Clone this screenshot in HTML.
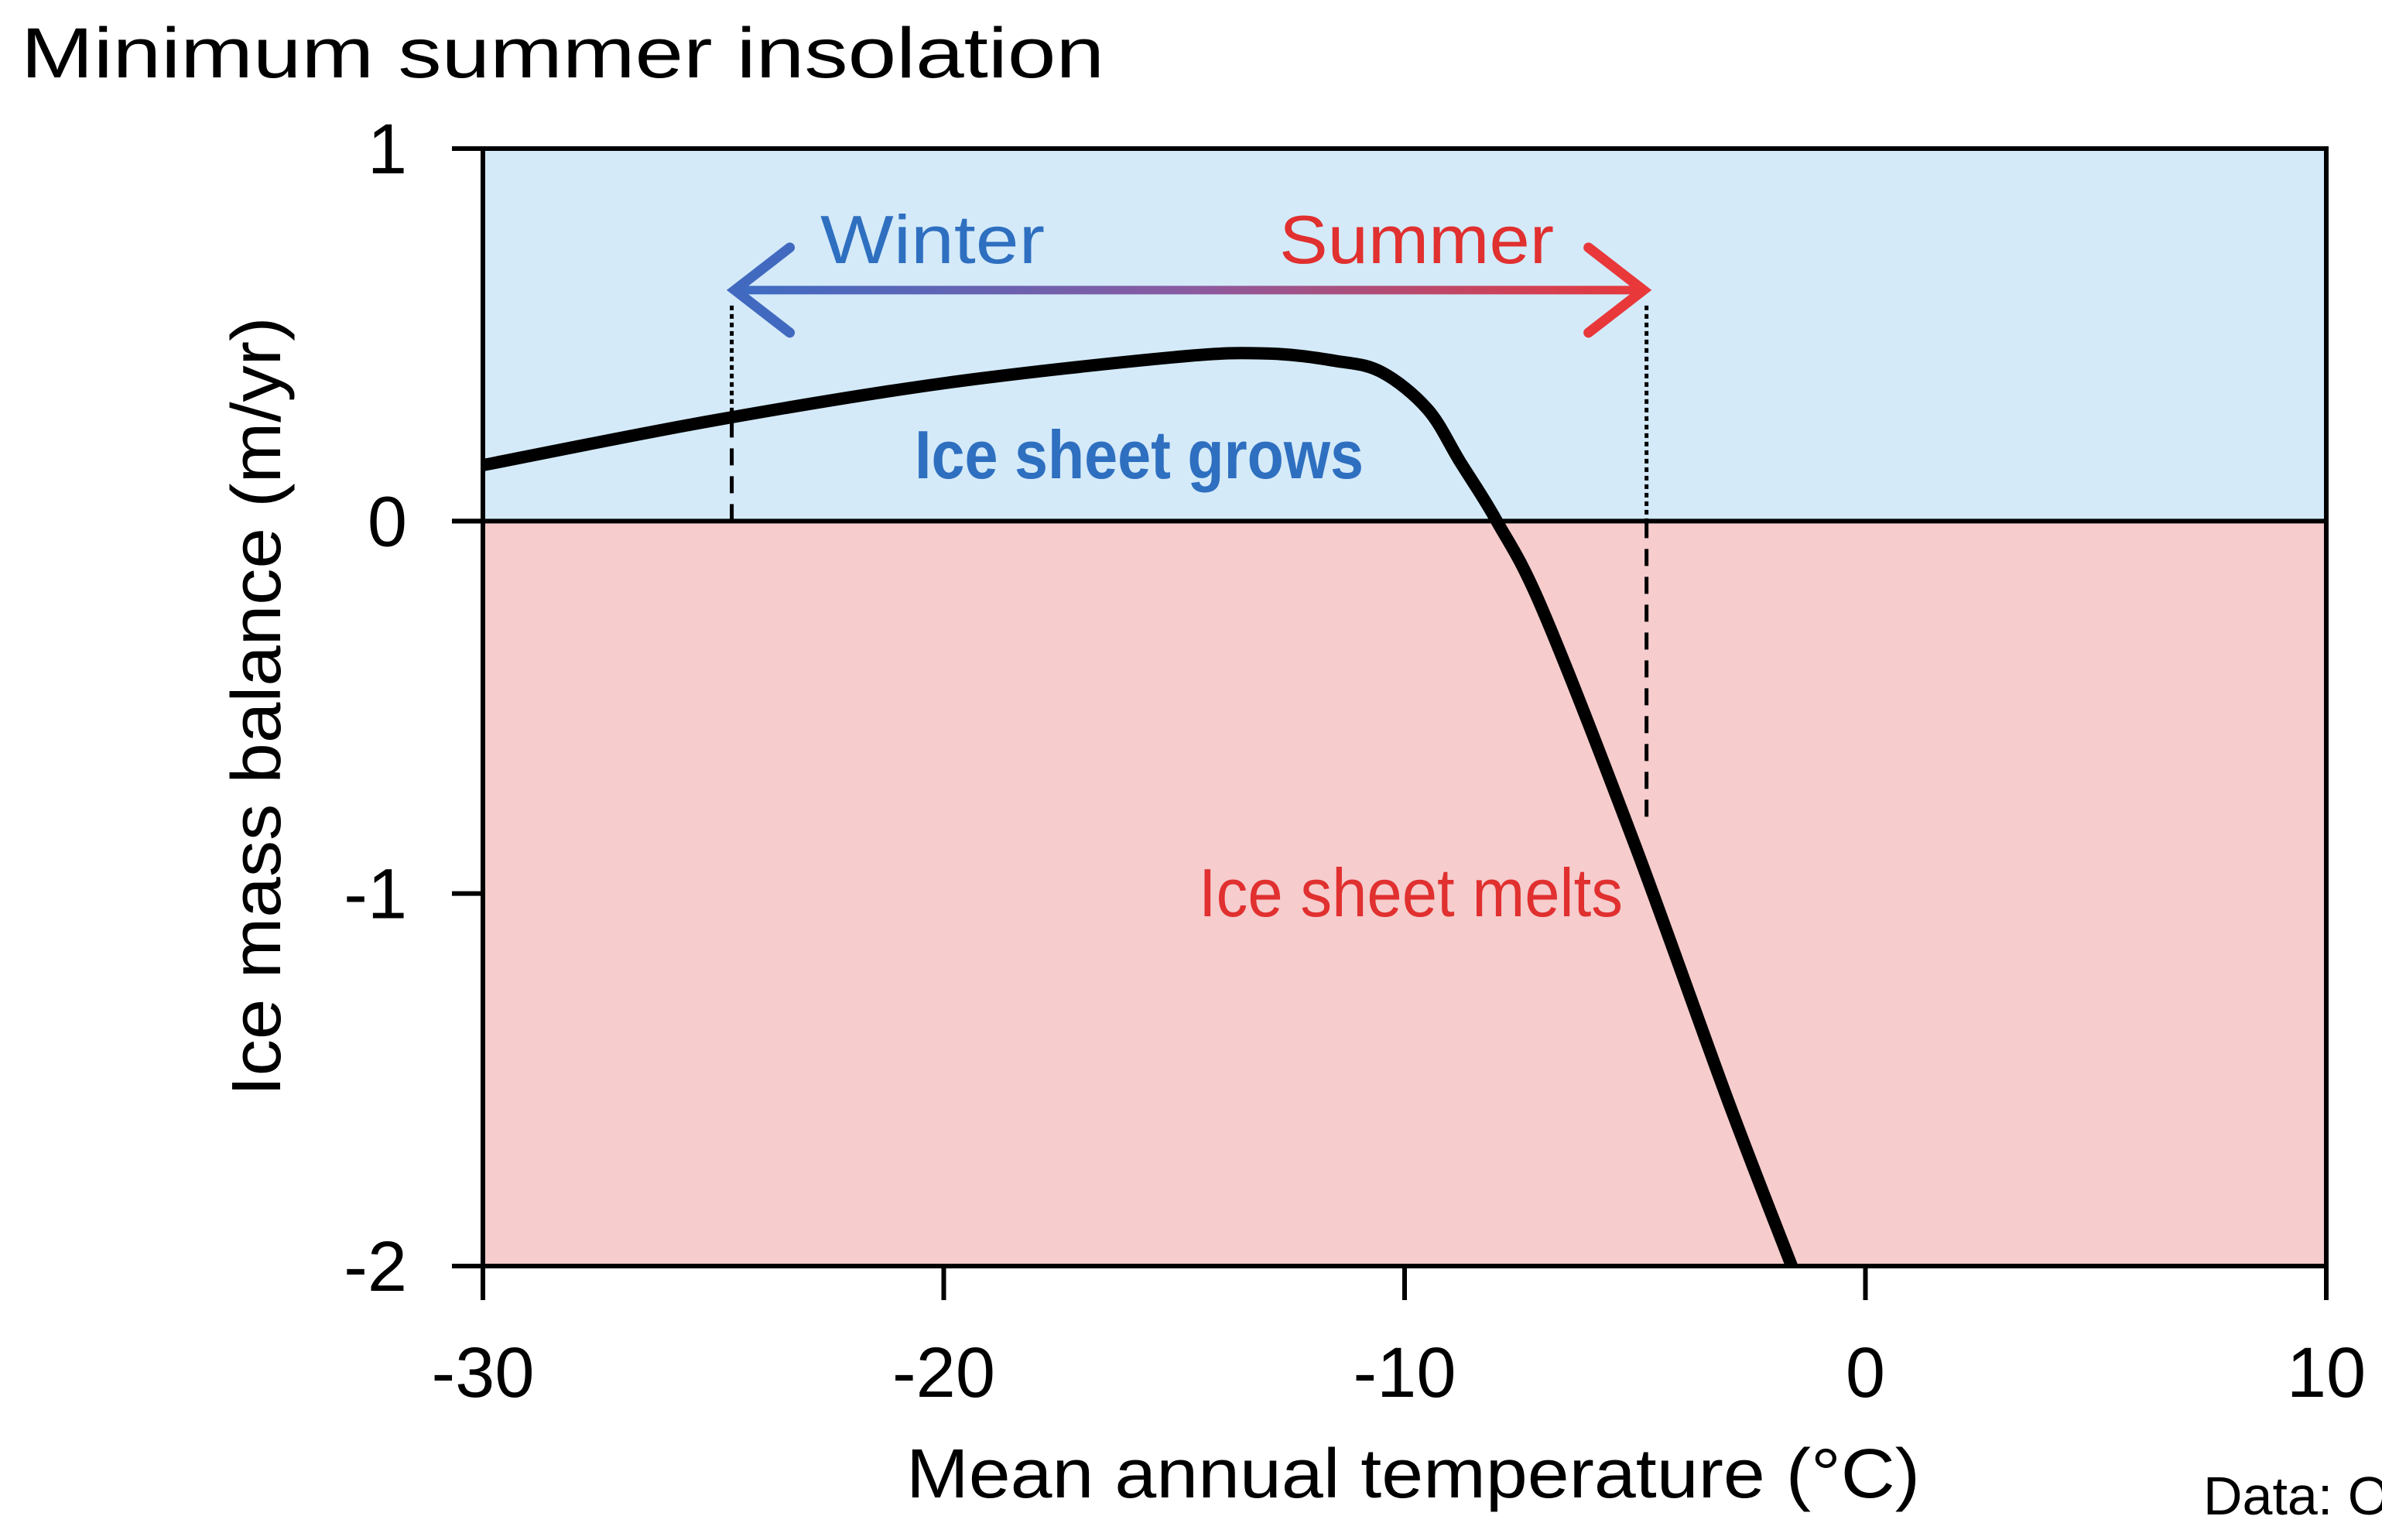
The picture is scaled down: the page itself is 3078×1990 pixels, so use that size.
<!DOCTYPE html>
<html><head><meta charset="utf-8"><style>
html,body{margin:0;padding:0;background:#fff;}
svg{display:block;font-family:"Liberation Sans",sans-serif;}
</style></head><body>
<svg id="chart" width="3078" height="1990" viewBox="0 0 3078 1990" xmlns="http://www.w3.org/2000/svg">
<defs>
<linearGradient id="arrowGrad" gradientUnits="userSpaceOnUse" x1="950" x2="2125" y1="0" y2="0">
<stop offset="0" stop-color="#3d6cc4"/><stop offset="0.5" stop-color="#8a5aa0"/><stop offset="1" stop-color="#e8383a"/>
</linearGradient>
</defs>
<text x="27" y="100" font-size="92" fill="#000" textLength="1400" lengthAdjust="spacingAndGlyphs">Minimum summer insolation</text>
<g id="plot"></g>
<text x="1826" y="1935" font-size="90" text-anchor="middle" textLength="1310" lengthAdjust="spacingAndGlyphs">Mean annual temperature (°C)</text>
<text transform="translate(362,913) rotate(-90)" font-size="90" text-anchor="middle" textLength="1007" lengthAdjust="spacingAndGlyphs">Ice mass balance (m/yr)</text>
<text x="2847" y="1957" font-size="70">Data: Oerlemans</text>
</svg>
<script>
const xTicks = [-30, -20, -10, 0, 10];
const yTicks = [1, 0, -1, -2];
const curveX = [-30, -25, -20, -15, -13, -11.5, -10.5, -9.5, -8.8, -8, -7, -5, -3, -1.6];
const curveY = [0.15, 0.27, 0.37, 0.44, 0.45, 0.43, 0.40, 0.30, 0.16, 0.0, -0.24, -0.87, -1.55, -2.0];
const winterX = [-24.6];
const summerX = [-4.75];
const arrowY = [0.62];
const summerCurveY = [-0.82];

const L=624,R=3006,T=192,B=1636;
const X0=-30,X1=10,Y0=-2,Y1=1;
function sx(v){return L+(v-X0)/(X1-X0)*(R-L);}
function sy(v){return B-(v-Y0)/(Y1-Y0)*(B-T);}
const NS="http://www.w3.org/2000/svg";
const g=document.getElementById('plot');
function mk(tag,attrs,parent){const e=document.createElementNS(NS,tag);for(const k in attrs)e.setAttribute(k,attrs[k]);(parent||g).appendChild(e);return e;}

let e;
e=mk('rect',{x:L,y:T,width:R-L,height:sy(0)-T,fill:'#d4eaf9'});


e=mk('rect',{x:L,y:sy(0),width:R-L,height:B-sy(0),fill:'#f6cccd'});



const wx=sx(winterX[0]), ay=sy(arrowY[0]);
e=mk('line',{x1:wx,y1:ay+20,x2:wx,y2:sy(0.27),stroke:'#000','stroke-width':5,'stroke-dasharray':'6 5'});


e=mk('line',{x1:wx,y1:sy(0.27),x2:wx,y2:sy(0),stroke:'#000','stroke-width':5,'stroke-dasharray':'22 14'});


const smx=sx(summerX[0]);
e=mk('line',{x1:smx,y1:ay+20,x2:smx,y2:sy(0),stroke:'#000','stroke-width':5,'stroke-dasharray':'6 5'});


e=mk('line',{x1:smx,y1:sy(0),x2:smx,y2:sy(summerCurveY[0]),stroke:'#000','stroke-width':5,'stroke-dasharray':'22 14'});



e=mk('rect',{x:L,y:T,width:R-L,height:B-T,fill:'none',stroke:'#000','stroke-width':6});


e=mk('line',{x1:L-40,y1:sy(0),x2:R,y2:sy(0),stroke:'#000','stroke-width':6});



yTicks.forEach(v=>{
  const t=mk('line',{x1:L-40,y1:sy(v),x2:L,y2:sy(v),stroke:'#000','stroke-width':6});
  
  
  const l=mk('text',{x:526,y:sy(v)+32,'font-size':92,'text-anchor':'end'});
  l.textContent=String(v);
  
  
});
xTicks.forEach(v=>{
  const t=mk('line',{x1:sx(v),y1:B,x2:sx(v),y2:B+44,stroke:'#000','stroke-width':6});
  
  
  const l=mk('text',{x:sx(v),y:1805,'font-size':92,'text-anchor':'middle'});
  l.textContent=String(v);
  
  
});

const pts=curveX.map((v,i)=>[sx(v),sy(curveY[i])]);
let d='M'+pts[0][0]+','+pts[0][1];
for(let i=0;i<pts.length-1;i++){
  const p0=pts[Math.max(0,i-1)],p1=pts[i],p2=pts[i+1],p3=pts[Math.min(pts.length-1,i+2)];
  const c1=[p1[0]+(p2[0]-p0[0])/6,p1[1]+(p2[1]-p0[1])/6];
  const c2=[p2[0]-(p3[0]-p1[0])/6,p2[1]-(p3[1]-p1[1])/6];
  d+=` C${c1[0]},${c1[1]} ${c2[0]},${c2[1]} ${p2[0]},${p2[1]}`;
}
e=mk('path',{d:d,fill:'none',stroke:'#000','stroke-width':16,'stroke-linecap':'butt'});



e=mk('line',{x1:wx+6,y1:ay,x2:smx-6,y2:ay,stroke:'url(#arrowGrad)','stroke-width':11});


e=mk('polyline',{points:`${wx+75},${ay-55} ${wx+4},${ay} ${wx+75},${ay+55}`,fill:'none',stroke:'#4169bf','stroke-width':13,'stroke-linecap':'round','stroke-linejoin':'miter'});


e=mk('polyline',{points:`${smx-75},${ay-55} ${smx-4},${ay} ${smx-75},${ay+55}`,fill:'none',stroke:'#e8383a','stroke-width':13,'stroke-linecap':'round','stroke-linejoin':'miter'});



function label(txt,x,y,fill,len,name,bold){
  const t=mk('text',{x:x,y:y,'font-size':88,fill:fill,textLength:len,lengthAdjust:'spacingAndGlyphs'});
  if(bold)t.setAttribute('font-weight','bold');
  t.textContent=txt;
  
  
}
label('Winter',1060,340,'#2e6fc0',290,'winter-label');
label('Summer',1653,340,'#e0302f',355,'summer-label');
label('Ice sheet grows',1182,618,'#2e6fc0',580,'ice-grows-label',true);
label('Ice sheet melts',1549,1184,'#e0302f',548,'ice-melts-label');
</script>
</body></html>
